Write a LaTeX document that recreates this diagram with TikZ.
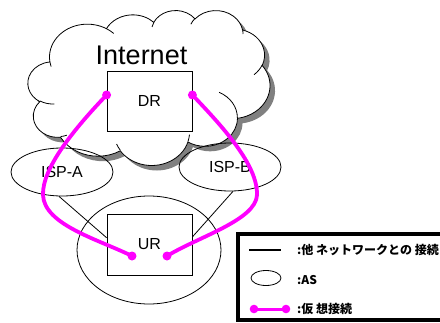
\documentclass[tikz,border=0pt]{standalone}
\usepackage{fontspec}
\setmainfont{Liberation Sans}
\newfontfamily\jpfont{Noto Sans CJK JP}
\usetikzlibrary{shapes.geometric}

% cloud outline: elliptic arcs given in a 43200 x 43200 frame,
% angles are visual angles (degrees, clockwise with y pointing down)
\def\csx{0.0056019}
\def\csy{0.0035880}
\def\csxt{0.056019}
\def\csyt{0.035880}
\def\cox{28}
\def\coy{10}
\newcommand\cloudarc[4]{arc[start angle={-atan2(#1*sin(#3),#2*cos(#3))},
  delta angle={-mod(atan2(#1*sin(#3+#4),#2*cos(#3+#4))-atan2(#1*sin(#3),#2*cos(#3))+720,360)},
  x radius={#1*\csx pt}, y radius={#2*\csy pt}]}
% points of the frame, given in tenths
\newcommand\cpt[2]{({\cox+#1*\csxt},{\coy+#2*\csyt})}
\def\cloudpath{\cpt{390.0}{1437.0}
  \cloudarc{6753}{9190}{-190.4875}{123.7805}
  \cloudarc{5333}{7267}{-144.1024}{89.9452}
  \cloudarc{4365}{5945}{-145.8079}{99.7230}
  \cloudarc{4857}{6595}{-130.9861}{117.2417}
  \cloudarc{5333}{7273}{-78.7089}{109.0269}
  \cloudarc{6775}{9220}{-46.2673}{130.2690}
  \cloudarc{5785}{7867}{0.6250}{114.0333}
  \cloudarc{6752}{9215}{22.4516}{115.1726}
  \cloudarc{7720}{10543}{66.2426}{75.7110}
  \cloudarc{4360}{5918}{-274.9421}{146.7356}
  \cloudarc{4345}{5945}{-246.8285}{152.5189}
  -- cycle}

\begin{document}
\begin{tikzpicture}[x=1pt,y=-1pt,
  thin line/.style={line width=0.8pt},
  boxnode/.style={draw, thin line, fill=white, minimum width=85pt, inner sep=0pt,
    font=\fontsize{16}{16}\selectfont},
  asnode/.style={ellipse, draw, thin line, inner sep=0pt,
    font=\fontsize{16}{16}\selectfont},
  vlink/.style={draw=magenta, line width=3.8pt},
  vdot/.style={fill=magenta},
  legtext/.style={anchor=west, inner sep=0pt, font=\jpfont\bfseries\fontsize{12}{12}\selectfont}]
\useasboundingbox (0,0) rectangle (440,322);
\definecolor{magenta}{RGB}{255,0,255}
\definecolor{shadowgray}{RGB}{128,128,128}

% cloud with its drop shadow and inner creases
\fill[shadowgray, shift={(5,5)}] \cloudpath;
\filldraw[fill=white, draw=black, thin line] \cloudpath;
\begin{scope}[thin line]
\draw \cpt{469.3}{2617.7} \cloudarc{4345}{5945}{86.7420}{26.4295};
\draw \cpt{692.8}{3489.9} \cloudarc{4360}{5918}{73.6105}{11.4475};
\draw \cpt{1647.8}{3909.0} \cloudarc{6752}{9215}{137.6242}{14.0811};
\draw \cpt{2882.7}{3475.1} \cloudarc{6752}{9215}{6.4533}{15.9984};
\draw \cpt{3412.9}{2295.4} \cloudarc{5785}{7867}{-70.2924}{70.9174};
\draw \cpt{4179.8}{1535.4} \cloudarc{5333}{7273}{30.3180}{27.7515};
\draw \cpt{3832.4}{542.6} \cloudarc{4857}{6595}{-13.7443}{14.8589};
\draw \cpt{2907.8}{395.2} \cloudarc{4857}{6595}{-149.1815}{18.1954};
\draw \cpt{2214.1}{472.0} \cloudarc{4365}{5945}{-163.4943}{17.6864};
\draw \cpt{1400.0}{519.2} \cloudarc{6753}{9190}{-66.7070}{12.3194};
\draw \cpt{412.7}{1578.9} \cloudarc{6753}{9190}{157.6544}{11.8582};
\end{scope}

\node[inner sep=0pt, font=\fontsize{27}{27}\selectfont] (inet) at (141.5,55) {Internet};

% autonomous systems
\node[asnode, minimum width=102pt, minimum height=48pt] (ispa) at (62,172) {ISP-A};
\node[asnode, minimum width=102pt, minimum height=48pt] (ispb) at (230,167) {ISP-B};
\node[asnode, minimum width=144pt, minimum height=108pt] (asur) at (149,250) {};

% routers
\node[boxnode, minimum height=60pt] (dr) at (149.5,101) {DR};
\node[boxnode, minimum height=61pt] (ur) at (149.5,244.5) {UR};

% links to the neighbouring networks
\draw[thin line] (ispa.263) -- (ur.171);
\draw[thin line] (ispb.277) -- (ur.10);

% virtual connections
\coordinate (ura) at (132,256);
\coordinate (urb) at (167,256);
\draw[vlink] (dr.172) .. controls (75,128) and (42,168) .. (43,195)
  .. controls (44,225) and (100,240) .. (ura);
\draw[vlink] (dr.8) .. controls (222,126) and (258,165) .. (257,195)
  .. controls (256,220) and (198,237) .. (urb);
\fill[vdot] (dr.172) circle[radius=4.5pt];
\fill[vdot] (dr.8) circle[radius=4.5pt];
\fill[vdot] (ura) circle[radius=4.5pt];
\fill[vdot] (urb) circle[radius=4.5pt];

% legend
\filldraw[fill=white, draw=black, line width=4pt] (238,234) rectangle (470,320);
\coordinate (la) at (249,250);
\coordinate (lb) at (281,250);
\draw[line width=2.6pt] (la) -- (lb);
\node[asnode, minimum width=30pt, minimum height=15pt] (lell) at (266,278) {};
\coordinate (ma) at (254,309);
\coordinate (mb) at (286,309);
\draw[draw=magenta, line width=3pt] (ma) -- (mb);
\fill[vdot] (ma) circle[radius=4.3pt];
\fill[vdot] (mb) circle[radius=4.3pt];
\node[legtext] (t1) at (297,250) {:他 ネットワークとの 接続};
\node[legtext] (t2) at (297,280) {:AS};
\node[legtext] (t3) at (297,309) {:仮 想接続};
\end{tikzpicture}
\end{document}
